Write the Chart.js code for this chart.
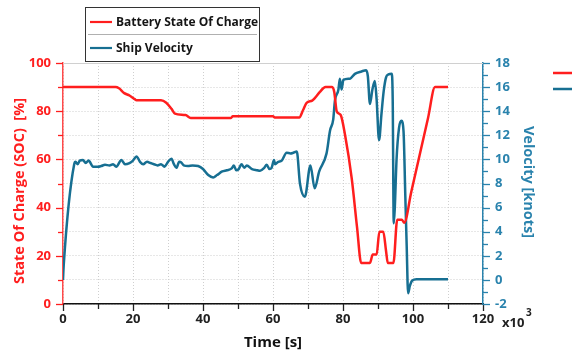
<!DOCTYPE html>
<html>
<head>
<meta charset="utf-8">
<script src="https://cdn.jsdelivr.net/npm/chart.js@4.4.1/dist/chart.umd.min.js"></script>
<style>
  html, body { margin: 0; padding: 0; background: #fff; }
  #wrap { width: 572px; height: 356px; }
</style>
</head>
<body>
<div id="wrap"><canvas id="socChart" width="572" height="356"></canvas></div>
<script>
// time axis is in thousands of seconds (x10^3)
const socTime = [0, 15, 16, 17.5, 19, 20.5, 21, 28, 29.5, 31, 32, 35, 36.5, 48, 48.5, 60, 60.5, 67.5,
    68.6, 69.6, 71.2, 72, 73.4, 75, 76.8, 77.5, 78.2, 79.3, 80.6, 82.5, 84, 85.2, 87.7, 88.5, 89.6,
    90.4, 91.5, 92.3, 92.8, 94.4, 95.5, 96.8, 97.5, 99.5, 104.3, 106.3, 110];
const socValues = [90, 90, 89.5, 87.5, 86.5, 85, 84.5, 84.5, 83.5, 81, 79, 78.4, 77.2, 77.2, 77.9, 77.9, 77.4, 77.4,
    80.5, 83.5, 84.4, 85.5, 88, 90, 90, 88, 80, 78.5, 70, 52, 32, 17, 17, 20.5, 20.5,
    30, 30, 22, 17, 17, 35, 35, 33.7, 46.5, 77.2, 90, 90];

const velTime = [0, 0.2, 3.2, 3.6, 4.2, 4.8, 5.7, 6.5, 7.3, 8.6, 10, 10.9, 12, 13.3, 14.3, 15.2, 16.7, 17.7,
    19, 20, 21, 22, 22.9, 24, 25, 26, 27, 28, 29, 30, 31, 31.7, 32.4, 33.2, 33.8, 34.5, 35.7, 37, 38.6,
    40, 41.5, 42.9, 44, 45.5, 46.8, 48.2, 48.8, 49.5, 50.2, 51, 51.8, 52.5, 54, 55.5, 56.3, 57.5, 58.2,
    59, 59.6, 60.3, 60.6, 61.5, 62.5, 63.9, 65, 65.8, 66.8, 67.7, 69.1, 70.7, 71.9, 73.2, 75.3, 76.3,
    77.2, 77.7, 78.7, 79.1, 79.6, 80.1, 82, 83.4, 85.3, 86.6, 87.1, 87.7, 88.4, 89.1, 89.6, 90.3, 91,
    91.6, 92.3, 93, 93.9, 94.2, 94.5, 94.8, 95.3, 96, 96.7, 97.3, 97.8, 98.2, 98.6, 99.1, 99.8, 101, 110];
const velValues = [0, 1.2, 9.6, 9.8, 9.6, 9.9, 9.95, 9.7, 9.9, 9.4, 9.4, 9.45, 9.55, 9.5, 9.6, 9.4, 9.95, 9.6,
    9.7, 9.9, 10.25, 9.8, 9.6, 9.8, 9.7, 9.6, 9.5, 9.6, 9.4, 9.8, 10.05, 9.6, 9.3, 9.8, 9.75, 9.5, 9.45, 9.5, 9.45,
    9.2, 8.7, 8.5, 8.7, 9.0, 9.1, 9.25, 9.5, 9.1, 9.2, 9.6, 9.3, 9.5, 9.2, 9.1, 9.05, 9.3, 9.55,
    9.2, 9.3, 9.95, 9.6, 9.8, 9.9, 10.55, 10.5, 10.55, 10.65, 8.0, 6.9, 9.5, 7.6, 9.0, 10.5, 12.4,
    13.3, 14.9, 15.8, 16.7, 15.8, 16.6, 16.7, 17.1, 17.3, 17.4, 16.9, 14.6, 15.8, 16.5, 15.0, 11.6, 13.8,
    15.6, 16.8, 17.05, 17.1, 15.0, 4.7, 6.0, 10.0, 12.6, 13.2, 12.3, 7.0, 2.8, -1.1, -0.5, -0.05, 0.05, 0.05];

const timeTicks = [0, 20, 40, 60, 80, 100, 120];
const socTicks = [0, 20, 40, 60, 80, 100];
const velTicks = [-2, 0, 2, 4, 6, 8, 10, 12, 14, 16, 18];

const RED = '#ff1e1e';
const BLUE = '#176f92';
const BLUE_AXIS = '#2a83ad';
const FONT = '"Open Sans", "Noto Sans", sans-serif';

function toPoints(xs, ys) {
    return xs.map((x, i) => ({ x: x, y: ys[i] }));
}

// legend box, tick marks, axis titles, frame top and exponent label
const decorPlugin = {
    id: 'decor',
    afterDraw(chart) {
        const ctx = chart.ctx;
        const area = chart.chartArea;
        const xs = chart.scales.x, ys = chart.scales.ySoc, yv = chart.scales.yVel;
        ctx.save();

        ctx.strokeStyle = '#d0d0d0';
        ctx.lineWidth = 1;
        ctx.beginPath();
        ctx.moveTo(area.left, area.top + 0.5);
        ctx.lineTo(area.right, area.top + 0.5);
        ctx.stroke();

        ctx.lineWidth = 1.3;
        ctx.strokeStyle = '#222';
        for (let v = 0; v <= 120; v += 10) {
            const px = Math.round(xs.getPixelForValue(v)) + 0.5;
            ctx.beginPath();
            ctx.moveTo(px, area.bottom);
            ctx.lineTo(px, area.bottom + (timeTicks.includes(v) ? 7 : 5));
            ctx.stroke();
        }
        ctx.strokeStyle = RED;
        for (let v = 0; v <= 100; v += 10) {
            const py = Math.round(ys.getPixelForValue(v)) + 0.5;
            ctx.beginPath();
            ctx.moveTo(area.left, py);
            ctx.lineTo(area.left - (socTicks.includes(v) ? 7 : 5), py);
            ctx.stroke();
        }
        ctx.strokeStyle = BLUE_AXIS;
        for (let v = -2; v <= 18; v += 1) {
            const py = Math.round(yv.getPixelForValue(v)) + 0.5;
            ctx.beginPath();
            ctx.moveTo(area.right, py);
            ctx.lineTo(area.right + (velTicks.includes(v) ? 7 : 5), py);
            ctx.stroke();
        }

        // axis titles
        ctx.textAlign = 'center';
        ctx.textBaseline = 'middle';
        ctx.font = 'bold 15px ' + FONT;
        ctx.fillStyle = '#111';
        ctx.fillText('Time [s]', 273, 343);

        ctx.font = 'bold 14.5px ' + FONT;
        ctx.fillStyle = RED;
        ctx.save();
        ctx.translate(20, 191);
        ctx.rotate(-Math.PI / 2);
        ctx.fillText('State Of Charge (SOC)  [%]', 0, 0);
        ctx.restore();

        ctx.fillStyle = BLUE_AXIS;
        ctx.save();
        ctx.translate(528, 182);
        ctx.rotate(Math.PI / 2);
        ctx.fillText('Velocity [knots]', 0, 0);
        ctx.restore();

        // x10^3 multiplier
        ctx.fillStyle = '#222';
        ctx.textBaseline = 'alphabetic';
        ctx.textAlign = 'left';
        ctx.font = 'bold 13px ' + FONT;
        ctx.fillText('x10', 502, 327);
        ctx.font = 'bold 10px ' + FONT;
        ctx.fillText('3', 526, 316);

        // legend
        ctx.fillStyle = '#fff';
        ctx.fillRect(85.5, 7.5, 174, 54);
        ctx.strokeStyle = '#333';
        ctx.lineWidth = 1;
        ctx.strokeRect(85.5, 7.5, 174, 54);
        ctx.strokeStyle = '#b0b0b0';
        ctx.beginPath();
        ctx.moveTo(88, 34.5);
        ctx.lineTo(257, 34.5);
        ctx.stroke();
        ctx.lineWidth = 2.2;
        ctx.strokeStyle = RED;
        ctx.beginPath(); ctx.moveTo(90, 22); ctx.lineTo(112, 22); ctx.stroke();
        ctx.strokeStyle = BLUE;
        ctx.beginPath(); ctx.moveTo(90, 48); ctx.lineTo(112, 48); ctx.stroke();
        ctx.fillStyle = '#151515';
        ctx.font = 'bold 12px ' + FONT;
        ctx.textBaseline = 'middle';
        ctx.fillText('Battery State Of Charge', 116, 23);
        ctx.fillText('Ship Velocity', 116, 49);

        // second legend, cut off at the right edge
        ctx.lineWidth = 2.5;
        ctx.strokeStyle = RED;
        ctx.beginPath(); ctx.moveTo(553, 73); ctx.lineTo(572, 73); ctx.stroke();
        ctx.strokeStyle = BLUE;
        ctx.beginPath(); ctx.moveTo(553, 89); ctx.lineTo(572, 89); ctx.stroke();

        ctx.restore();
    }
};

new Chart(document.getElementById('socChart'), {
    type: 'line',
    data: {
        datasets: [
            {
                label: 'Battery State Of Charge',
                data: toPoints(socTime, socValues),
                borderColor: RED,
                borderWidth: 2.5,
                pointRadius: 0,
                cubicInterpolationMode: 'monotone',
                yAxisID: 'ySoc'
            },
            {
                label: 'Ship Velocity',
                data: toPoints(velTime, velValues),
                borderColor: BLUE,
                borderWidth: 2.5,
                pointRadius: 0,
                cubicInterpolationMode: 'monotone',
                yAxisID: 'yVel'
            }
        ]
    },
    options: {
        responsive: false,
        animation: false,
        layout: { padding: { top: 63, left: 0, right: 0, bottom: 0 } },
        plugins: {
            legend: { display: false },
            tooltip: { enabled: false }
        },
        scales: {
            x: {
                type: 'linear',
                position: 'bottom',
                min: 0,
                max: 120,
                afterFit(s) { s.height = 52; },
                ticks: {
                    stepSize: 10,
                    autoSkip: false,
                    maxRotation: 0,
                    padding: 7,
                    color: '#222',
                    font: { family: FONT, size: 13, weight: 'bold' },
                    callback: v => timeTicks.includes(v) ? String(v) : ''
                },
                grid: { color: '#cfcfcf', drawTicks: false },
                border: { color: '#111', width: 1.5, dash: [1, 2] }
            },
            ySoc: {
                type: 'linear',
                position: 'left',
                min: 0,
                max: 100,
                afterFit(s) { s.width = 63; },
                ticks: {
                    stepSize: 10,
                    padding: 12,
                    color: RED,
                    font: { family: FONT, size: 13, weight: 'bold' },
                    callback: v => socTicks.includes(v) ? String(v) : ''
                },
                grid: { color: '#cfcfcf', drawTicks: false },
                border: { color: '#ff4a4a', width: 1.5, dash: [1, 2] }
            },
            yVel: {
                type: 'linear',
                position: 'right',
                min: -2,
                max: 18,
                afterFit(s) { s.width = 89; },
                ticks: {
                    stepSize: 1,
                    padding: 12,
                    color: BLUE_AXIS,
                    font: { family: FONT, size: 13, weight: 'bold' },
                    callback: v => velTicks.includes(v) ? String(v) : ''
                },
                grid: { drawOnChartArea: false, drawTicks: false },
                border: { color: BLUE_AXIS, width: 1.5 }
            }
        }
    },
    plugins: [decorPlugin]
});
</script>
</body>
</html>
